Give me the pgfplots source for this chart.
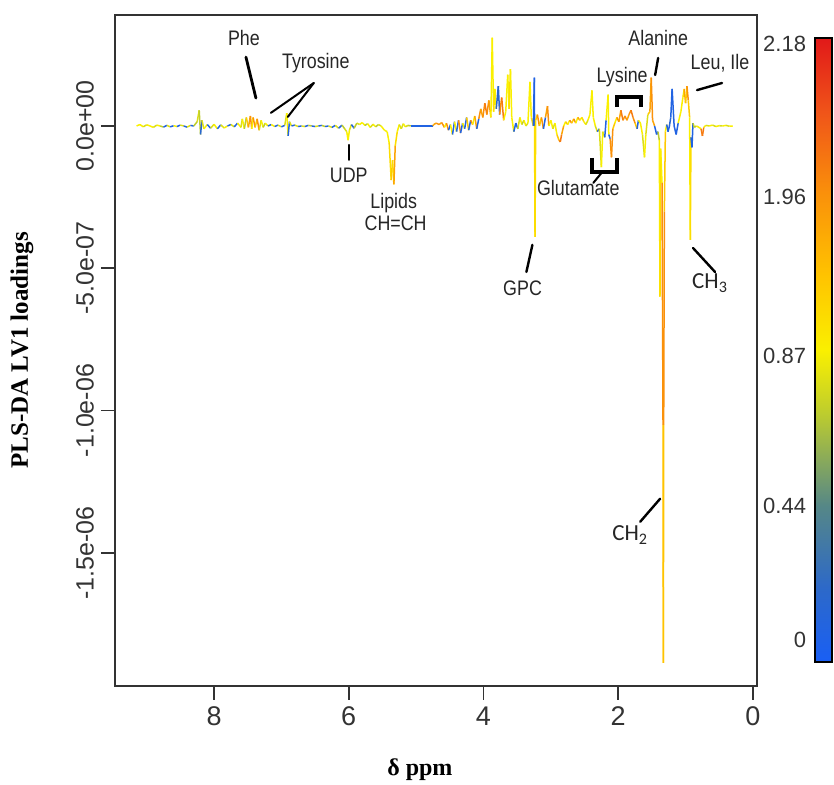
\documentclass[border=0pt]{standalone}
\usepackage{fontspec}
\setmainfont{Liberation Serif}
\newfontfamily\arial{Liberation Sans}
\newfontfamily\narrow{Liberation Sans}[FakeStretch=0.85]
\newfontfamily\calib{Carlito}
\usepackage{pgfplots}
\usepackage{pgfplotstable}
\pgfplotsset{compat=1.18}

% colour scale of the loading weights (0 = blue ... 1 = red)
\pgfplotsset{colormap={loadmap}{rgb255(0cm)=(25,95,245); rgb255(12cm)=(45,105,200);
  rgb255(25cm)=(85,135,135); rgb255(40cm)=(190,205,45); rgb255(50cm)=(250,240,0);
  rgb255(62cm)=(255,195,0); rgb255(75cm)=(250,145,10); rgb255(88cm)=(240,85,25);
  rgb255(100cm)=(225,25,25)}}

% delta (ppm), loading (x 1e-7), colour weight of the segment starting at the point
\pgfplotstableread{
ppm val c
9.15 0.00 0.50
9.10 0.05 0.50
9.05 -0.03 0.45
9.00 0.04 0.50
8.95 0.00 0.50
8.90 -0.05 0.45
8.85 0.03 0.50
8.80 0.00 0.40
8.75 -0.04 0.05
8.70 0.02 0.45
8.65 -0.03 0.05
8.60 0.01 0.50
8.55 -0.02 0.05
8.50 0.03 0.45
8.45 0.00 0.05
8.40 -0.04 0.45
8.35 0.02 0.05
8.30 0.00 0.40
8.25 0.15 0.45
8.22 0.55 0.40
8.20 -0.30 0.10
8.18 0.20 0.45
8.15 -0.10 0.50
8.10 0.05 0.05
8.05 -0.08 0.45
8.00 0.06 0.50
7.95 -0.10 0.05
7.90 0.04 0.45
7.85 -0.07 0.50
7.80 0.00 0.05
7.75 0.05 0.45
7.70 -0.03 0.05
7.65 0.10 0.50
7.60 -0.05 0.45
7.58 0.25 0.50
7.55 -0.10 0.40
7.52 0.30 0.60
7.49 -0.05 0.70
7.46 0.35 0.75
7.44 -0.10 0.50
7.42 0.30 0.75
7.39 -0.05 0.60
7.36 0.25 0.75
7.33 -0.15 0.45
7.30 0.20 0.50
7.27 -0.05 0.40
7.24 0.10 0.50
7.20 0.00 0.05
7.15 0.05 0.50
7.10 -0.02 0.05
7.05 0.03 0.45
7.00 -0.03 0.05
6.95 0.02 0.45
6.92 0.45 0.50
6.90 -0.35 0.05
6.88 0.15 0.45
6.85 0.00 0.05
6.80 0.03 0.45
6.75 -0.02 0.05
6.70 0.00 0.45
6.65 -0.02 0.05
6.60 0.02 0.40
6.55 0.00 0.05
6.50 -0.02 0.45
6.45 0.00 0.05
6.40 0.02 0.40
6.35 -0.02 0.05
6.30 0.00 0.45
6.25 -0.05 0.05
6.20 0.02 0.45
6.15 -0.08 0.05
6.10 0.03 0.40
6.06 -0.10 0.45
6.03 -0.20 0.50
6.01 -0.50 0.50
5.99 -0.15 0.45
5.96 0.05 0.05
5.92 -0.08 0.40
5.88 0.10 0.45
5.84 0.05 0.50
5.80 0.12 0.50
5.76 0.02 0.40
5.72 0.08 0.50
5.68 -0.05 0.45
5.64 0.06 0.50
5.60 -0.03 0.40
5.56 0.05 0.45
5.52 0.00 0.50
5.47 -0.15 0.50
5.43 -0.20 0.50
5.40 -0.60 0.55
5.37 -1.90 0.60
5.35 -1.20 0.55
5.33 -2.05 0.70
5.31 -0.70 0.55
5.28 -0.20 0.50
5.25 0.05 0.45
5.22 -0.10 0.45
5.19 0.08 0.50
5.16 -0.03 0.45
5.12 0.02 0.40
5.08 0.00 0.05
4.75 0.00 0.70
4.74 0.05 0.70
4.70 0.10 0.75
4.66 0.05 0.70
4.62 0.12 0.75
4.58 -0.05 0.50
4.55 0.10 0.75
4.52 -0.15 0.05
4.49 0.05 0.50
4.46 -0.30 0.05
4.43 0.15 0.50
4.40 -0.20 0.05
4.37 0.20 0.75
4.34 -0.25 0.05
4.31 0.10 0.50
4.28 -0.10 0.05
4.25 0.30 0.60
4.22 -0.15 0.05
4.19 0.20 0.75
4.16 0.05 0.50
4.13 0.35 0.70
4.10 -0.10 0.05
4.07 0.25 0.75
4.04 0.60 0.70
4.01 0.30 0.75
3.98 0.80 0.80
3.95 0.40 0.75
3.92 0.90 0.70
3.89 0.30 0.50
3.87 3.10 0.50
3.85 0.50 0.55
3.83 1.30 0.50
3.81 0.60 0.10
3.78 1.40 0.10
3.76 0.40 0.75
3.73 1.00 0.80
3.70 0.20 0.50
3.67 0.50 0.50
3.64 1.80 0.50
3.62 0.60 0.55
3.60 2.00 0.50
3.58 0.30 0.50
3.55 -0.20 0.05
3.52 0.10 0.05
3.49 -0.10 0.45
3.46 0.30 0.50
3.43 0.05 0.40
3.40 0.20 0.50
3.37 0.00 0.45
3.34 0.10 0.50
3.31 1.55 0.50
3.29 0.30 0.55
3.26 0.00 0.05
3.245 1.70 0.05
3.242 0.00 0.55
3.235 -3.90 0.55
3.225 0.20 0.60
3.20 0.40 0.75
3.17 0.00 0.60
3.14 0.30 0.75
3.11 -0.10 0.05
3.08 0.30 0.70
3.05 0.70 0.75
3.03 0.00 0.50
3.00 0.20 0.50
2.97 -0.10 0.45
2.94 0.10 0.50
2.91 -0.30 0.60
2.88 -0.50 0.75
2.86 -0.56 0.80
2.84 -0.30 0.70
2.81 0.00 0.50
2.78 0.15 0.60
2.75 0.05 0.50
2.72 0.20 0.75
2.69 0.10 0.60
2.66 0.25 0.75
2.63 0.10 0.50
2.60 0.30 0.70
2.57 0.20 0.50
2.54 0.30 0.55
2.51 0.15 0.50
2.48 0.05 0.45
2.45 0.20 0.50
2.42 0.40 0.50
2.39 1.25 0.50
2.37 0.30 0.50
2.34 0.00 0.45
2.31 -0.20 0.05
2.28 -0.10 0.45
2.25 -1.45 0.50
2.23 -0.20 0.45
2.20 -0.40 0.05
2.18 0.20 0.50
2.15 1.10 0.50
2.14 -0.30 0.05
2.12 -0.45 0.75
2.10 -1.10 0.75
2.08 -0.10 0.60
2.05 0.10 0.50
2.02 0.30 0.75
1.99 0.15 0.70
1.96 0.55 0.80
1.93 0.20 0.75
1.90 0.35 0.75
1.87 0.20 0.70
1.84 0.40 0.75
1.81 0.55 0.80
1.78 0.30 0.75
1.75 0.10 0.60
1.72 -0.10 0.05
1.70 0.20 0.50
1.67 0.10 0.50
1.64 -0.30 0.45
1.61 -1.10 0.50
1.59 -0.30 0.45
1.56 0.40 0.60
1.53 0.50 0.70
1.51 1.70 0.75
1.49 0.20 0.70
1.46 0.00 0.05
1.43 -0.30 0.05
1.41 -0.20 0.40
1.39 -0.50 0.50
1.38 -6.00 0.55
1.37 -0.80 0.50
1.35 -2.00 0.75
1.335 -10.50 0.62
1.33 -18.87 0.62
1.325 -10.50 0.75
1.315 -3.00 0.60
1.30 -0.20 0.50
1.28 0.05 0.05
1.26 -0.20 0.05
1.24 0.00 0.10
1.22 0.30 0.05
1.20 1.30 0.05
1.17 0.00 0.05
1.14 -0.30 0.05
1.11 0.10 0.50
1.07 0.50 0.50
1.04 1.00 0.55
1.02 1.30 0.70
1.00 0.80 0.60
0.98 1.40 0.75
0.96 0.90 0.60
0.94 0.30 0.50
0.93 -4.00 0.55
0.92 -0.40 0.05
0.905 -0.75 0.05
0.89 0.10 0.40
0.87 -0.05 0.40
0.84 0.00 0.50
0.80 -0.05 0.50
0.77 -0.10 0.80
0.75 -0.35 0.80
0.73 -0.05 0.50
0.70 0.02 0.45
0.65 0.00 0.50
0.60 0.03 0.45
0.55 -0.02 0.50
0.50 0.01 0.45
0.45 0.00 0.50
0.40 0.02 0.45
0.35 -0.01 0.50
0.30 0.00 0.45
}\loadings

\begin{document}
\begin{tikzpicture}
\begin{axis}[
  name=main,
  scale only axis,
  width=321pt, height=335.5pt,
  x dir=reverse,
  xmin=-0.06, xmax=9.47,
  ymin=-19.68, ymax=3.9,
  xtick={0,2,4,6,8}, xticklabels={0,2,4,6,8},
  ytick={-15,-10,-5,0},
  yticklabels={-1.5e-06,-1.0e-06,-5.0e-07,0.0e+00},
  xtick pos=left, ytick pos=left,
  tick align=outside,
  major tick length=7pt,
  tick style={line width=0.9pt, black!80},
  axis line style={line width=1pt, black!80},
  ticklabel style={font=\arial\fontsize{12.5}{14}\selectfont, text=black!80},
  xticklabel style={font=\arial\fontsize{13.5}{15}\selectfont},
  yticklabel style={rotate=90, anchor=south},
  xlabel={\bfseries δ ppm},
  ylabel={\bfseries PLS-DA LV1 loadings},
  xlabel style={at={(axis description cs:0.475,0)}, anchor=center, yshift=-42pt,
    font=\fontsize{12}{14}\selectfont},
  ylabel style={at={(axis description cs:-0.145,0.5)}, anchor=center,
    font=\fontsize{12.5}{14}\selectfont},
  colormap name=loadmap,
  point meta min=0, point meta max=1,
  colorbar,
  colorbar style={
    scale only axis,
    width=8.5pt, height=312pt,
    at={(parent axis.north east)}, anchor=north west,
    xshift=20.5pt, yshift=-11.5pt,
    ytick={0.035,0.25,0.49,0.745,0.99},
    yticklabels={0,0.44,0.87,1.96,2.18},
    yticklabel pos=left,
    major tick length=0pt,
    axis line style={line width=0.6pt, black},
    yticklabel style={font=\arial\fontsize{11}{13}\selectfont, text=black!80,
      rotate=0, anchor=east, xshift=-1pt},
  },
]
\addplot[mesh, shader=flat corner, point meta=explicit, line width=0.75pt]
  table[x=ppm, y=val, meta=c] {\loadings};

% annotations
\begin{scope}[every node/.style={font=\narrow\fontsize{10.5}{12}\selectfont, text=black!85},
              line cap=round]
\node at (axis cs:7.556,3.09) {Phe};
\draw[line width=1.4pt] (axis cs:7.526,2.42) -- (axis cs:7.378,0.98);
\node at (axis cs:6.489,2.21) {Tyrosine};
\draw[line width=1pt] (axis cs:6.519,1.51) -- (axis cs:7.156,0.46);
\draw[line width=1pt] (axis cs:6.519,1.51) -- (axis cs:6.904,0.32);
\draw[line width=1.2pt] (axis cs:6.0,-0.67) -- (axis cs:6.0,-1.19);
\node at (axis cs:6.0,-1.72) {UDP};
\node at (axis cs:5.333,-2.71) {Lipids};
\node at (axis cs:5.304,-3.41) {CH=CH};
\node at (axis cs:3.42,-5.69) {GPC};
\draw[line width=1.2pt] (axis cs:3.274,-4.18) -- (axis cs:3.363,-5.13);
\draw[line width=1.8pt, line cap=butt] (axis cs:2.385,-1.12) -- (axis cs:2.385,-1.62)
  -- (axis cs:2.015,-1.62) -- (axis cs:2.015,-1.12);
\draw[line width=1pt] (axis cs:2.237,-1.62) -- (axis cs:2.37,-2.0);
\node at (axis cs:2.593,-2.18) {Glutamate};
\node at (axis cs:1.941,1.72) {Lysine};
\draw[line width=1.8pt, line cap=butt] (axis cs:2.015,0.67) -- (axis cs:2.015,1.02)
  -- (axis cs:1.659,1.02) -- (axis cs:1.659,0.67);
\node at (axis cs:1.407,3.09) {Alanine};
\draw[line width=1.2pt] (axis cs:1.452,1.79) -- (axis cs:1.407,2.39);
\node at (axis cs:0.489,2.21) {Leu, Ile};
\draw[line width=1.2pt] (axis cs:0.83,1.26) -- (axis cs:0.459,1.51);
\node[font=\calib\fontsize{11.5}{13}\selectfont] at (axis cs:0.637,-5.52) {CH\textsubscript{3}};
\draw[line width=1.2pt] (axis cs:0.889,-4.29) -- (axis cs:0.563,-5.13);
\node[font=\calib\fontsize{11.5}{13}\selectfont] at (axis cs:1.822,-14.37) {CH\textsubscript{2}};
\draw[line width=1.2pt] (axis cs:1.674,-13.91) -- (axis cs:1.378,-13.1);
\end{scope}
\end{axis}
\pgfresetboundingbox
\path ([xshift=-57.5pt,yshift=-49.5pt]main.south west)
  rectangle ([xshift=38.5pt,yshift=7.5pt]main.north east);
\end{tikzpicture}
\end{document}
